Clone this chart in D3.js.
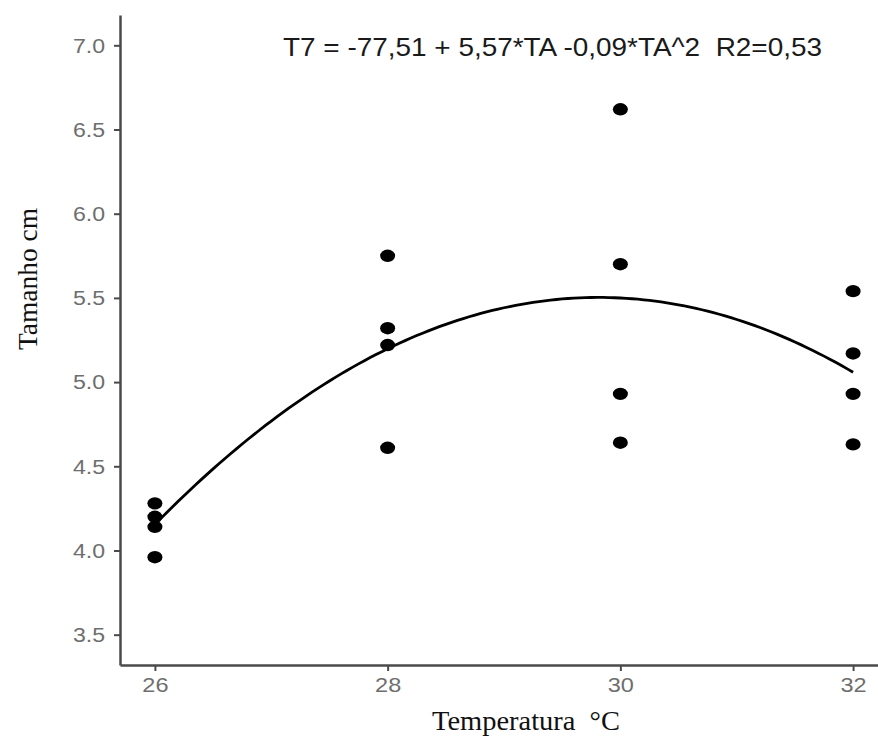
<!DOCTYPE html>
<html>
<head>
<meta charset="utf-8">
<script src="https://cdn.jsdelivr.net/npm/d3@7"></script>
<style>
  html, body { margin: 0; padding: 0; background: #fff; }
  svg { display: block; }
  text { white-space: pre; }
</style>
</head>
<body>
<svg id="chart" width="878" height="736"></svg>
<script>
// Observed sizes (cm) at each water temperature (°C)
const temp26 = [4.28, 4.20, 4.14, 3.96];
const temp28 = [5.75, 5.32, 5.22, 4.61];
const temp30 = [6.62, 5.70, 4.93, 4.64];
const temp32 = [5.54, 5.17, 4.93, 4.63];
const temperatures = [26, 28, 30, 32];
const xTicks = [26, 28, 30, 32];
const yTicks = [3.5, 4.0, 4.5, 5.0, 5.5, 6.0, 6.5, 7.0];
const equationLabel = "T7 = -77,51 + 5,57*TA -0,09*TA^2  R2=0,53";
const xTitle = "Temperatura  \u00B0C";
const yTitle = "Tamanho cm";

const groups = [temp26, temp28, temp30, temp32];
const points = [];
groups.forEach((vals, i) => vals.forEach(v => points.push({ t: temperatures[i], v })));

// Quadratic least-squares fit (y ~ a + b*x + c*x^2), solved on centred x
function quadFit(data) {
  const mx = d3.mean(data, d => d.t);
  const S = [[0,0,0],[0,0,0],[0,0,0]], r = [0,0,0];
  data.forEach(d => {
    const u = d.t - mx, row = [1, u, u*u];
    for (let i = 0; i < 3; i++) {
      r[i] += row[i] * d.v;
      for (let j = 0; j < 3; j++) S[i][j] += row[i] * row[j];
    }
  });
  const A = S.map((row, i) => row.concat([r[i]]));
  for (let i = 0; i < 3; i++) {
    let p = i;
    for (let k = i + 1; k < 3; k++) if (Math.abs(A[k][i]) > Math.abs(A[p][i])) p = k;
    [A[i], A[p]] = [A[p], A[i]];
    for (let k = i + 1; k < 3; k++) {
      const f = A[k][i] / A[i][i];
      for (let j = i; j < 4; j++) A[k][j] -= f * A[i][j];
    }
  }
  const c = [0,0,0];
  for (let i = 2; i >= 0; i--) {
    let s = A[i][3];
    for (let j = i + 1; j < 3; j++) s -= A[i][j] * c[j];
    c[i] = s / A[i][i];
  }
  return x => { const u = x - mx; return c[0] + c[1]*u + c[2]*u*u; };
}
const fit = quadFit(points);

const svg = d3.select("#chart");
const x = d3.scaleLinear().domain([25.7, 32.3]).range([120, 888]);
const y = d3.scaleLinear().domain([3.32, 7.18]).range([665, 15]);

// Axes
const xAxis = d3.axisBottom(x).tickValues(xTicks).tickFormat(d3.format("d"))
  .tickSizeInner(6).tickSizeOuter(0).tickPadding(6);
const yAxis = d3.axisLeft(y).tickValues(yTicks).tickFormat(d3.format(".1f"))
  .tickSizeInner(6).tickSizeOuter(0).tickPadding(9);

const gx = svg.append("g").attr("transform", "translate(0,665)").call(xAxis);
const gy = svg.append("g").attr("transform", "translate(120,0)").call(yAxis);

[gx, gy].forEach(g => {
  g.select(".domain").attr("stroke", "#4a4a4a").attr("stroke-width", 2.5);
  g.selectAll(".tick line").attr("stroke", "#4a4a4a").attr("stroke-width", 2);
  g.selectAll(".tick text")
    .attr("fill", "#6e6e6e")
    .style("font-family", "Liberation Sans, Arial, sans-serif")
    .style("font-size", "21px");
});
// slightly wide tick labels
gy.selectAll(".tick text").each(function() {
  const t = d3.select(this), tx = +t.attr("x");
  t.attr("x", 0).attr("transform", `translate(${tx},0) scale(1.1,1)`);
});
gx.selectAll(".tick text").each(function() {
  const t = d3.select(this), ty = +t.attr("y");
  t.attr("y", 0).attr("transform", `translate(0,${ty}) scale(1.12,1)`);
});

// Fitted quadratic curve over the observed temperature range
const curveXs = d3.range(0, 121).map(i => 26 + i * 6 / 120);
svg.append("path")
  .datum(curveXs)
  .attr("fill", "none")
  .attr("stroke", "#000")
  .attr("stroke-width", 2.8)
  .attr("d", d3.line().x(d => x(d)).y(d => y(fit(d))));

// Observations
svg.append("g").selectAll("ellipse")
  .data(points)
  .join("ellipse")
  .attr("cx", d => x(d.t))
  .attr("cy", d => y(d.v))
  .attr("rx", 7.5)
  .attr("ry", 6.2)
  .attr("fill", "#000");

// Equation annotation
svg.append("text")
  .attr("x", 283).attr("y", 56)
  .attr("fill", "#1a1a1a")
  .attr("textLength", 539)
  .attr("lengthAdjust", "spacingAndGlyphs")
  .style("font-family", "Liberation Sans, Arial, sans-serif")
  .style("font-size", "25px")
  .text(equationLabel);

// Axis titles
svg.append("text")
  .attr("x", 432).attr("y", 730)
  .attr("fill", "#111")
  .attr("textLength", 188)
  .attr("lengthAdjust", "spacingAndGlyphs")
  .style("font-family", "Liberation Serif, Times New Roman, serif")
  .style("font-size", "27px")
  .text(xTitle);

svg.append("text")
  .attr("transform", "translate(37,350) rotate(-90)")
  .attr("fill", "#111")
  .attr("textLength", 142)
  .attr("lengthAdjust", "spacingAndGlyphs")
  .style("font-family", "Liberation Serif, Times New Roman, serif")
  .style("font-size", "27px")
  .text(yTitle);
</script>
</body>
</html>
